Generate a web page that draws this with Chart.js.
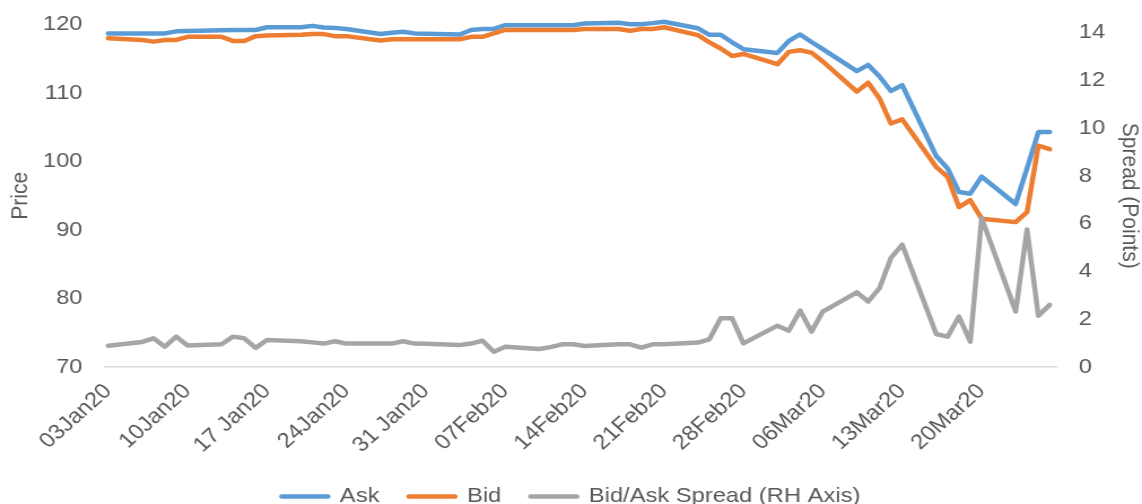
<!DOCTYPE html>
<html>
<head>
<meta charset="utf-8">
<script src="https://cdn.jsdelivr.net/npm/chart.js@4.4.1/dist/chart.umd.min.js"></script>
<style>
  html, body { margin: 0; padding: 0; background: #fff; overflow: hidden; }
</style>
</head>
<body>
<!-- the reference is a bit stretched sideways, so the bitmap is drawn narrower and widened by the inline size -->
<canvas id="mycanvas" width="1011" height="517" style="display:block;width:1142px;height:517px;"></canvas>
<script>
var dates = [
  '2020-01-03',
  '2020-01-06','2020-01-07','2020-01-08','2020-01-09','2020-01-10',
  '2020-01-13','2020-01-14','2020-01-15','2020-01-16','2020-01-17',
  '2020-01-20','2020-01-21','2020-01-22','2020-01-23','2020-01-24',
  '2020-01-27','2020-01-28','2020-01-29','2020-01-30','2020-01-31',
  '2020-02-03','2020-02-04','2020-02-05','2020-02-06','2020-02-07',
  '2020-02-10','2020-02-11','2020-02-12','2020-02-13','2020-02-14',
  '2020-02-17','2020-02-18','2020-02-19','2020-02-20','2020-02-21',
  '2020-02-24','2020-02-25','2020-02-26','2020-02-27','2020-02-28',
  '2020-03-02','2020-03-03','2020-03-04','2020-03-05','2020-03-06',
  '2020-03-09','2020-03-10','2020-03-11','2020-03-12','2020-03-13',
  '2020-03-16','2020-03-17','2020-03-18','2020-03-19','2020-03-20',
  '2020-03-23','2020-03-24','2020-03-25','2020-03-26'
];

var ask = [
  118.7,
  118.7, 118.7, 118.7, 119.0, 119.05,
  119.15, 119.2, 119.2, 119.2, 119.6,
  119.6, 119.8, 119.55, 119.5, 119.35,
  118.6, 118.8, 118.95, 118.7, 118.65,
  118.55, 119.2, 119.35, 119.35, 119.9,
  119.9, 119.9, 119.9, 119.9, 120.15,
  120.25, 120.05, 120.05, 120.2, 120.4,
  119.45, 118.5, 118.5, 117.4, 116.4,
  115.85, 117.6, 118.55, 117.45, 116.4,
  113.2, 114.1, 112.4, 110.3, 111.15,
  100.8, 99.0, 95.55, 95.3, 97.8,
  93.8, 99.0, 104.3, 104.3
];

var bid = [
  118.0,
  117.75, 117.5, 117.75, 117.75, 118.2,
  118.2, 117.6, 117.6, 118.3, 118.4,
  118.5, 118.6, 118.6, 118.3, 118.3,
  117.65, 117.85, 117.85, 117.85, 117.85,
  117.85, 118.2, 118.2, 118.7, 119.2,
  119.2, 119.2, 119.2, 119.2, 119.35,
  119.35, 119.1, 119.35, 119.35, 119.6,
  118.45, 117.4, 116.5, 115.4, 115.7,
  114.2, 116.0, 116.25, 115.9, 114.6,
  110.2, 111.5, 109.2, 105.55, 106.15,
  99.2, 97.75, 93.35, 94.35, 91.65,
  91.15, 92.6, 102.3, 101.8
];

var spread = [
  0.89,
  1.05, 1.2, 0.85, 1.27, 0.9,
  0.95, 1.27, 1.2, 0.8, 1.13,
  1.08, 1.03, 0.98, 1.08, 0.98,
  0.98, 0.98, 1.08, 0.98, 0.97,
  0.92, 0.98, 1.1, 0.64, 0.85,
  0.75, 0.83, 0.95, 0.95, 0.88,
  0.95, 0.95, 0.81, 0.95, 0.95,
  1.02, 1.16, 2.04, 2.04, 0.99,
  1.73, 1.52, 2.36, 1.48, 2.32,
  3.12, 2.74, 3.3, 4.56, 5.12,
  1.38, 1.27, 2.11, 1.06, 6.24,
  2.32, 5.75, 2.14, 2.6
];

// one label every 7 days from the first date
var tickLabels = ['03Jan20', '10Jan20', '17 Jan20', '24Jan20', '31 Jan20', '07Feb20',
  '14Feb20', '21Feb20', '28Feb20', '06Mar20', '13Mar20', '20Mar20'];

var day0 = Date.UTC(2020, 0, 3);
function dayNum(d) {
  var p = d.split('-');
  return (Date.UTC(+p[0], +p[1] - 1, +p[2]) - day0) / 86400000;
}
function points(vals) {
  return vals.map(function(v, i) { return {x: dayNum(dates[i]), y: v}; });
}

var grey = '#595959';
var font = {family: "'Liberation Sans', Arial, sans-serif", size: 21};
// invisible tick marks keep the labels away from the plot without padding the top
var hiddenGrid = { display: true, drawOnChartArea: false, drawTicks: true, tickLength: 20, color: 'rgba(0,0,0,0)' };

var ctx = document.getElementById('mycanvas');

var lineGraph = new Chart(ctx, {
  type: 'line',
  data: {
    datasets: [
      {
        label: 'Ask',
        data: points(ask),
        yAxisID: 'y',
        borderColor: '#5B9BD5',
        backgroundColor: '#5B9BD5',
        clip: false,
        order: 3
      },
      {
        label: 'Bid',
        data: points(bid),
        yAxisID: 'y',
        borderColor: '#ED7D31',
        backgroundColor: '#ED7D31',
        clip: false,
        order: 2
      },
      {
        label: 'Bid/Ask Spread (RH Axis)',
        data: points(spread),
        yAxisID: 'y2',
        borderColor: '#A5A5A5',
        backgroundColor: '#A5A5A5',
        clip: false,
        order: 1
      }
    ]
  },
  options: {
    responsive: false,
    animation: false,
    devicePixelRatio: 1,
    layout: { padding: { top: 24.5, left: 0, right: 0, bottom: 0 } },
    elements: {
      line: { borderWidth: 4.5, tension: 0, borderJoinStyle: 'round', borderCapStyle: 'round' },
      point: { radius: 0, hoverRadius: 0 }
    },
    plugins: {
      tooltip: { enabled: false },
      legend: {
        position: 'bottom',
        labels: {
          usePointStyle: true,
          pointStyle: 'line',
          pointStyleWidth: 41,
          padding: 26,
          color: grey,
          font: font,
          sort: function(a, b) { return a.datasetIndex - b.datasetIndex; },
          generateLabels: function(chart) {
            var items = Chart.defaults.plugins.legend.labels.generateLabels(chart);
            items.forEach(function(item) {
              var ds = chart.data.datasets[item.datasetIndex];
              item.strokeStyle = ds.borderColor;
              item.lineWidth = 4.5;
              item.lineCap = 'round';
            });
            return items;
          }
        }
      }
    },
    scales: {
      x: {
        type: 'linear',
        bounds: 'data',
        min: -0.27,
        max: 83.57,
        grid: { display: false },
        border: { display: true, color: '#D9D9D9', width: 1.5 },
        afterBuildTicks: function(scale) {
          scale.ticks = tickLabels.map(function(t, i) { return {value: i * 7}; });
        },
        afterFit: function(scale) { scale.height = 93; },
        ticks: {
          autoSkip: false,
          minRotation: 45,
          maxRotation: 45,
          padding: 4,
          color: grey,
          font: font,
          callback: function(value, index) { return tickLabels[index]; }
        }
      },
      y: {
        position: 'left',
        bounds: 'data',
        min: 70,
        max: 120,
        grid: hiddenGrid,
        border: { display: false },
        afterFit: function(scale) { scale.width = 93; },
        ticks: { stepSize: 10, padding: 0, color: grey, font: font },
        title: { display: true, text: 'Price', color: grey, font: font, padding: { top: 6, bottom: 0 } }
      },
      y2: {
        position: 'right',
        bounds: 'data',
        min: 0,
        max: 14.33,
        grid: hiddenGrid,
        border: { display: false },
        afterFit: function(scale) { scale.width = 76; },
        ticks: { stepSize: 2, includeBounds: false, padding: 0, color: grey, font: font },
        title: { display: true, text: 'Spread (Points)', color: grey, font: font, padding: { top: -1, bottom: 0 } }
      }
    }
  }
});
</script>
</body>
</html>
